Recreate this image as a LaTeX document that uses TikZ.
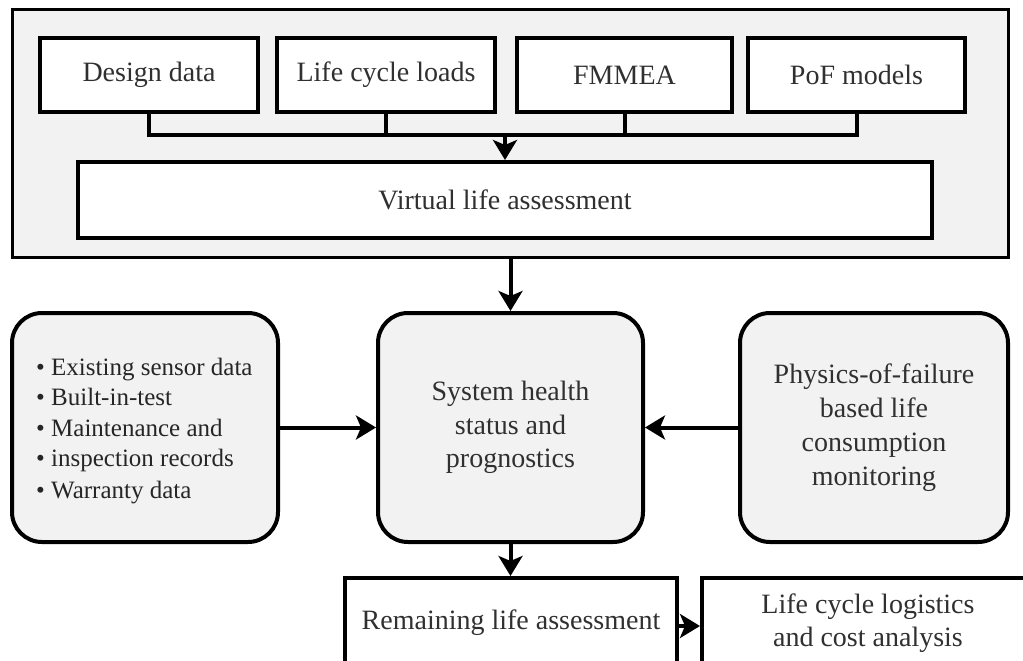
\documentclass[tikz,border=0pt]{standalone}
\usepackage{fontspec}
\setmainfont{Liberation Serif}
\usetikzlibrary{arrows.meta}
\definecolor{panel}{HTML}{F2F2F2}
\definecolor{ink}{HTML}{303030}
\tikzset{
  box/.style={draw=black, line width=4pt, fill=white, text=ink, align=center,
    inner sep=0pt, font=\fontsize{28}{34}\selectfont},
  softbox/.style={box, fill=panel, rounded corners=30pt},
  wire/.style={line width=4pt},
  flow/.style={line width=4pt, -{Stealth[length=20pt,width=24pt,inset=5pt]}}
}
\begin{document}
\begin{tikzpicture}[x=1pt,y=-1pt]
\clip (0,0) rectangle (1023,661);
\fill[white] (0,0) rectangle (1023,661);

% outer panel
\node[draw=black, line width=3pt, fill=panel, minimum width=996pt, minimum height=247pt,
  inner sep=0pt] (frame) at (510,133.5) {};

% input boxes
\node[box, minimum width=218pt, minimum height=74pt] (design) at (149,75) {Design data};
\node[box, minimum width=218pt, minimum height=74pt] (loads) at (386,75) {Life cycle loads};
\node[box, minimum width=215pt, minimum height=74pt] (fmmea) at (624.5,75) {FMMEA};
\node[box, minimum width=217pt, minimum height=74pt] (pof) at (856.5,75) {PoF models};

\node[box, minimum width=854pt, minimum height=76pt] (virtual) at (505,200) {Virtual life assessment};

% collecting bus
\coordinate (bus) at (505,135);
\draw[wire] (design.south) |- (pof.south |- bus) -- (pof.south);
\draw[wire] (loads.south) -- (loads.south |- bus);
\draw[wire] (fmmea.south) -- (fmmea.south |- bus);
\draw[flow] (bus) -- (virtual.north);

% middle row
\node[softbox, minimum width=266pt, minimum height=229pt] (sources) at (145,427.5) {};
\node[text=black!85, align=left, anchor=west, inner sep=0pt,
  font=\fontsize{25}{30}\selectfont] (list) at (36,431)
  {• Existing sensor data\\• Built-in-test\\[1pt]• Maintenance and\\• inspection records\\[2pt]• Warranty data};

\node[softbox, minimum width=265pt, minimum height=229pt,
  font=\fontsize{28}{33.5}\selectfont] (health) at (510.5,427.5)
  {System health\\status and\\prognostics};

\node[softbox, minimum width=268pt, minimum height=229pt,
  font=\fontsize{28}{34}\selectfont] (pofmon) at (874,427.5)
  {Physics-of-failure\\based life\\consumption\\monitoring};

\draw[flow] (frame.south -| health.north) -- (health.north);
\draw[flow] (sources.east) -- (health.west);
\draw[flow] (pofmon.west) -- (health.east);

% bottom row
\node[box, minimum width=332pt, minimum height=90pt] (remain) at (511,623) {Remaining life assessment};
\node[box, minimum width=332pt, minimum height=90pt,
  font=\fontsize{28}{33}\selectfont] (logistics) at (868,623) {Life cycle logistics\\and cost analysis};

\draw[flow] (health.south) -- (health.south |- remain.north);
\draw[flow] ([yshift=-3pt]remain.east) -- ([yshift=-3pt]logistics.west);
\end{tikzpicture}
\end{document}
